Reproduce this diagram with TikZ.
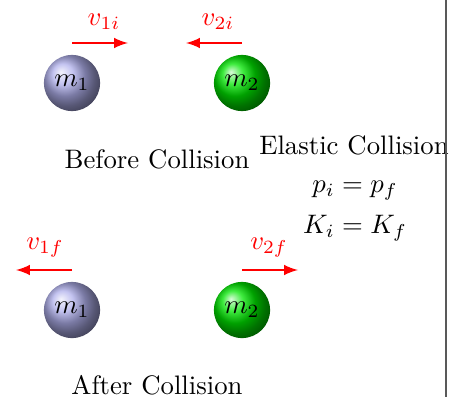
\documentclass[tikz,border=0pt]{standalone}
\usetikzlibrary{arrows}
\definecolor{massAcol}{RGB}{175,175,235}
\begin{document}
\begin{tikzpicture}[x=0.374pt,y=-0.374pt,
  massA/.style={circle,shading=ball,ball color=massAcol,minimum size=21pt,inner sep=0pt},
  massB/.style={circle,shading=ball,ball color=green!90!black,minimum size=21pt,inner sep=0pt},
  vel/.style={red,thick,-latex}]
\useasboundingbox (0,0) rectangle (450,397);
% before
\node[massA] (m1a) at (72,83) {$m_1$};
\node[massB] (m2a) at (242,83) {$m_2$};
\coordinate (v1is) at (72,43); \coordinate (v1ie) at (128,43);
\coordinate (v2is) at (242,43); \coordinate (v2ie) at (186,43);
\draw[vel] (v1is) -- (v1ie);
\draw[vel] (v2is) -- (v2ie);
\node[red] (l1i) at (104,22) {$v_{1i}$};
\node[red] (l2i) at (218,22) {$v_{2i}$};
\node (before) at (157,159) {Before Collision};
% info
\node (elastic) at (354,145) {Elastic Collision};
\node (mom) at (355,191) {$p_i = p_f$};
\node (ken) at (355,228) {$K_i = K_f$};
% after
\node[massA] (m1b) at (72,310) {$m_1$};
\node[massB] (m2b) at (242,310) {$m_2$};
\coordinate (v1fs) at (72,270); \coordinate (v1fe) at (16,270);
\coordinate (v2fs) at (242,270); \coordinate (v2fe) at (298,270);
\draw[vel] (v1fs) -- (v1fe);
\draw[vel] (v2fs) -- (v2fe);
\node[red] (l1f) at (45,248) {$v_{1f}$};
\node[red] (l2f) at (269,248) {$v_{2f}$};
\node (after) at (157,385) {After Collision};
% frame line
\coordinate (ft) at (446,0); \coordinate (fb) at (446,397);
\draw[gray!70!black,line width=0.6pt] (ft) -- (fb);
\end{tikzpicture}
\end{document}
